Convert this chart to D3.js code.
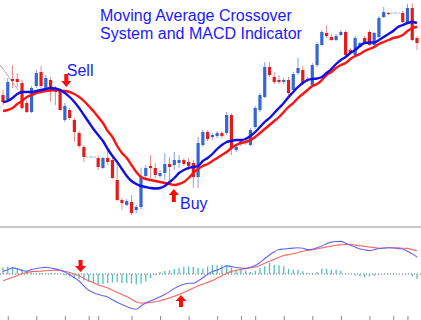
<!DOCTYPE html>
<html>
<head>
<meta charset="utf-8">
<script src="https://cdn.jsdelivr.net/npm/d3@7"></script>
<style>
  body { margin: 0; background: #fff; }
  svg { display: block; }
</style>
</head>
<body>
<div id="chart"></div>
<script>
// price candles (one per bar)
var opens  = [135,130,151,151,147,127,118,144,158,140, 150,138,140,110,120,110,97,83,73,73, 72,62,72,70,50,30,25,28,20,23,
              54,64,62,54,57,66,65,67,70,68, 67,53,85,98,93,94,97,97,115,80, 86,89,85,103,120,133,163,153,150,148,
              150,140,157,160,150,145,165,185,197,193, 190,195,198,180,175,183,192,198,185,193, 213,217,217,217,217,208,222,192];
var highs  = [140,152,165,157,150,130,144,160,164,155, 153,144,142,127,122,112,99,85,73.5,73.5, 75,73,80,72,67,32,31,35,25,62,
              65,75,67,60,77,73,78,75,72,72, 70,93,100,100,97,99,99,118,117,85, 91,93,102,124,137,168,168,158,155,152,
              153,158,172,164,153,167,188,200,205,196, 196,200,200,182,194,188,194,200,198,214, 223,218,217.5,217.5,219,226,227,194];
var lows   = [125,128,142,143,120,117,117,142,142,138, 128,125,119,108,110,88,82,68,72.5,72.5, 60,61,65,51,29,20,24,15,17,21,
              52,52,52,52,50,50,60,62,64,60, 42,42,83,89,90,92,92,95,75,78, 84,85,84,101,118,132,153,146,146,146,
              135,138,155,145,148,144,163,184,192,189, 189,194,172,176,174,182,186,184,184,192, 212,215,216.5,216.5,207,207,189,180];
var closes = [128,148,149,148,122,118,142,157,144,152, 140,141,120,124,112,98,84,73,73,73, 63,72,68,52,30,27,29,17,23,53,
              62,62,55,57,66,63,70,70,66,64, 53,87,98,91,95,97,94,115,82,83, 89,87,100,122,135,163,155,148,148,150,
              137,156,162,147,151,165,186,198,194,190, 194,198,175,177,192,187,187,185,197,212, 218,216,217,217,208,222,190,187];

// moving averages
var fastMA = [128,129,132,136,138,138,138,139,140,141, 142,141.5,140,137,133,128,122,115,108,101,
              95,89,81,74,68,61,54,49,46,44, 43,42,41.5,42,44,48,52,57,60,62,
              63,64,69,72,76,81,85,88,89,90, 90,91,94,98,103,108,112,117,122,127,
              133,138,143,147,150,151,151.5,153,157,161, 166,170,173,177,180,184,187,187.5,187.5,190,
              193,196,199,203,205,207,208,207];
var slowMA = [119,120,122,126,129,133,135,137,138,139, 139.5,140,139.5,139,138,136,133,129,124,119,
              113,107,99,93,84,77,72,65,58,53, 51,50,49,48,47,46,45,46,48,52,
              57,61,64,66,69,72,75,78,82,85, 87,88,90,93,97,101,105,109,113,118,
              123,127,132,136,140,144,146,150,155,158, 162,165,167,171,174,176,179,181,183,186,
              188,190,192,193,195,199,202,203];

// MACD panel
var macdLine   = [2.5,4.3,6.1,5.2,3.5,2.9,4.6,5.5,6.2,6.6, 6,5.1,3.8,2,-0.7,-3.7,-7,-12,-16.3,-18.6,
                  -20.6,-21.7,-23,-25.8,-28.4,-30.5,-32.6,-34.5,-35.3,-32, -29,-26.8,-25,-22.8,-20.4,-17.6,-14.4,-12,-10.3,-9.3,
                  -9.3,-7,-3.8,-0.2,2.5,4,6,8.1,7.4,6.5, 6,5.8,6.8,8.5,11.5,15.5,19,22.2,24.5,25,
                  25.5,25.9,26.2,25.7,24.5,24.8,26.3,28,30.3,31.9, 32.5,32.6,30.7,28.8,26.9,25,24.2,23.4,24.3,25.5,
                  25.9,26.2,26,25.4,25,22.8,20.1,17];
var signalLine = [-6.7,-5.1,-3.3,-1.4,0.2,1.5,2.4,2.6,2.9,3.2, 3.5,3.9,3.5,2.7,1.5,-0.1,-2.1,-4.4,-6.7,-8.8,
                  -10.9,-12.3,-14,-16.2,-18.4,-20.5,-22.6,-25.2,-27.9,-29, -29,-28.5,-27.8,-26.7,-25.4,-23.8,-22.2,-20.3,-18.3,-16.3,
                  -14,-11.9,-10,-8.4,-6.5,-4.1,-1.7,0.7,2.6,3.6, 4.6,5.4,6.2,7,8.6,10.7,12.8,14.7,16.7,18.5,
                  19.4,20.3,21.5,22.7,23.6,24.4,25.2,26,27.1,27.9, 28.8,29.2,29.5,29.6,28.9,28.2,27.6,27,26.4,25.8,
                  26,26.2,26.3,26.1,25.8,25.6,24.4,23.2];
var histogram  = [6.5,7.5,7,6,5,3,1.5,1,1,1, 1,0.5,0,-1,-2.5,-4,-5,-6.5,-7.5,-9,
                  -10.5,-10,-9,-8.5,-8,-9,-9,-9.5,-10.5,-9.5, -7.5,-4,-1,2,3,4,5,6,7,7.5,
                  7,6,5.5,7.5,9,8.7,8.7,9,6,4.3, 4.3,3.3,2,3.3,6,7.7,11,9.3,8.7,7.7,
                  5.3,4.3,4.3,2.7,1,0.7,2,5.3,5.3,4.3, 4.3,3.3,0.7,0,-1.3,-2.3,-3.3,-2.3,-1.7,-0.7,
                  -0.5,-0.3,-0.3,-0.3,-0.5,-0.5,-2.3,-4.7];

var axisTicks = [1,7,13,18,20,27,33,39,45,50,53,59,65,71,77,82,85];
var titleLines = ["Moving Average Crossover", "System and MACD Indicator"];

// signals: arrow tip on the price chart and on the MACD panel
var signalNames  = ["Sell", "Buy"];
var signalDir    = [1, -1];          // 1 = arrow points down
var signalIndex  = [13.3, 35.9];
var signalPrice  = [143, 41];
var labelIndex   = [13.4, 37.2];
var labelPrice   = [154, 21];
var macdArrowIdx = [16.3, 37.4];
var macdArrowVal = [2, -21];

var trendIndex = [-0.6, 3.2];
var trendPrice = [165, 140];

(function(){

    var W = 421, H = 320;
    var svg = d3.select("#chart").append("svg").attr("width", W).attr("height", H);

    var x  = d3.scaleLinear().domain([0, 87]).range([3, 417]);
    var y  = d3.scaleLinear().domain([0, 230]).range([230, 0]);
    var ym = d3.scaleLinear().domain([-46, 46]).range([320, 228]);

    var candles = opens.map(function(o, i){
        return {i: i, o: o, h: highs[i], l: lows[i], c: closes[i]};
    });

    // thin trend line top-left
    svg.append("line")
        .attr("x1", x(trendIndex[0])).attr("y1", y(trendPrice[0]))
        .attr("x2", x(trendIndex[1])).attr("y2", y(trendPrice[1]))
        .attr("stroke", "#9a9a9a").attr("stroke-width", 0.8);

    var cg = svg.append("g");
    candles.forEach(function(d){
        var cx = x(d.i);
        if (Math.abs(d.o - d.c) < 0.6) {
            cg.append("line")
                .attr("x1", cx - 2.5).attr("x2", cx + 2.5)
                .attr("y1", y(d.c)).attr("y2", y(d.c))
                .attr("stroke", "#8fa9e6").attr("stroke-width", 1)
                .attr("stroke-dasharray", "2,1");
            return;
        }
        var up = d.c > d.o;
        cg.append("line")
            .attr("x1", cx).attr("x2", cx)
            .attr("y1", y(d.h)).attr("y2", y(d.l))
            .attr("stroke", up ? "#86a2e0" : "#ec8a8a").attr("stroke-width", 1);
        cg.append("rect")
            .attr("x", cx - 1.6).attr("width", 3.2)
            .attr("y", y(Math.max(d.o, d.c)))
            .attr("height", Math.max(1, Math.abs(y(d.o) - y(d.c))))
            .attr("fill", up ? "#3467d6" : "#e51b1b");
    });

    var maLine = d3.line().x(function(d, i){ return x(i); }).y(function(d){ return y(d); }).curve(d3.curveMonotoneX);
    svg.append("path").attr("d", maLine(slowMA)).attr("fill", "none").attr("stroke", "#ff1111").attr("stroke-width", 2.4);
    svg.append("path").attr("d", maLine(fastMA)).attr("fill", "none").attr("stroke", "#1010e6").attr("stroke-width", 2.4);

    // panel separator
    svg.append("line").attr("x1", 0).attr("x2", W).attr("y1", 227).attr("y2", 227)
        .attr("stroke", "#c8c8c8").attr("stroke-width", 2);

    // MACD panel
    svg.append("line").attr("x1", 0).attr("x2", W).attr("y1", ym(0)).attr("y2", ym(0))
        .attr("stroke", "#666").attr("stroke-width", 1).attr("stroke-dasharray", "1,2");

    svg.append("g").selectAll("line").data(histogram).enter().append("line")
        .attr("x1", function(d, i){ return x(i); }).attr("x2", function(d, i){ return x(i); })
        .attr("y1", ym(0)).attr("y2", function(d){ return ym(d); })
        .attr("stroke", "#52bdbd").attr("stroke-width", 1.3);

    var mLine = d3.line().x(function(d, i){ return x(i); }).y(function(d){ return ym(d); }).curve(d3.curveMonotoneX);
    svg.append("path").attr("d", mLine(signalLine)).attr("fill", "none").attr("stroke", "#ff6464").attr("stroke-width", 1.1);
    svg.append("path").attr("d", mLine(macdLine)).attr("fill", "none").attr("stroke", "#6464ff").attr("stroke-width", 1.1);

    var axis = d3.axisTop(x).tickValues(axisTicks).tickSize(4).tickFormat("");
    var ag = svg.append("g").attr("transform", "translate(0," + H + ")").call(axis);
    ag.select(".domain").remove();
    ag.selectAll("line").attr("stroke", "#888");

    function drawArrow(cx, tip, dir, len, hw, hh, sw){
        // dir 1: tip at bottom, tail above
        var pts = [
            [cx, tip], [cx - hw, tip - dir * hh], [cx - sw, tip - dir * hh],
            [cx - sw, tip - dir * len], [cx + sw, tip - dir * len],
            [cx + sw, tip - dir * hh], [cx + hw, tip - dir * hh]
        ];
        svg.append("path").attr("d", "M" + pts.join("L") + "Z").attr("fill", "#ff0a0a");
    }

    signalNames.forEach(function(name, k){
        drawArrow(x(signalIndex[k]), y(signalPrice[k]), signalDir[k], 13, 5, 6, 2);
        drawArrow(x(macdArrowIdx[k]), ym(macdArrowVal[k]), signalDir[k], 12, 5.5, 6, 2);
        svg.append("text")
            .attr("x", x(labelIndex[k])).attr("y", y(labelPrice[k]))
            .attr("font-family", "Liberation Sans, Arial, sans-serif")
            .attr("font-size", 16).attr("fill", "#1a1aff")
            .text(name);
    });

    svg.append("g").selectAll("text").data(titleLines).enter().append("text")
        .attr("x", 100).attr("y", function(d, i){ return 21 + i * 18; })
        .attr("font-family", "Liberation Sans, Arial, sans-serif")
        .attr("font-size", 16).attr("fill", "#1a1aff")
        .text(function(d){ return d; });

})();
</script>
</body>
</html>
